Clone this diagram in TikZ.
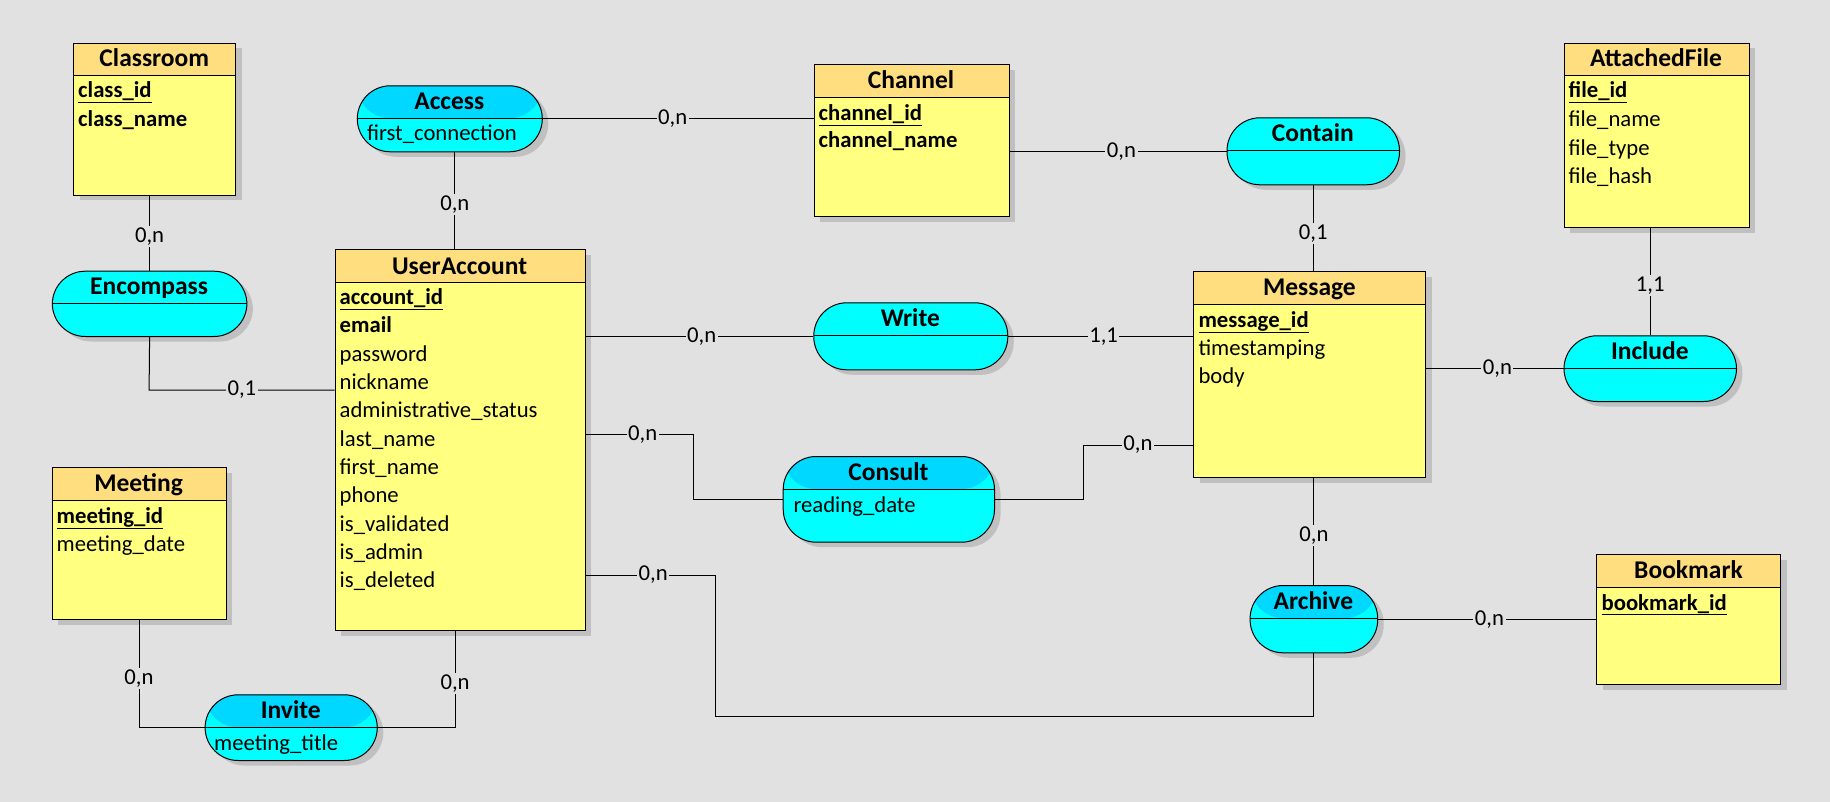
\documentclass[tikz,border=0pt]{standalone}
\usepackage{fontspec}
\setmainfont{Carlito}
\usetikzlibrary{shadows}
\definecolor{bg}{RGB}{225,225,225}
\definecolor{enthead}{RGB}{255,222,128}
\definecolor{entbody}{RGB}{255,255,128}
\definecolor{relbody}{RGB}{0,255,255}
\definecolor{relhead}{RGB}{0,216,255}
\definecolor{shadowc}{RGB}{192,192,192}
\newcommand{\erfont}{\fontsize{22.7}{27}\selectfont}
\newcommand{\ertitlefont}{\fontsize{25.5}{30}\selectfont}
\begin{document}
\begin{tikzpicture}[x=1pt,y=-1pt,
  box/.style={draw=black, line width=1pt, inner sep=0pt, anchor=north west,
    general shadow={fill=shadowc, shadow xshift=6pt, shadow yshift=-5pt}},
  hdr/.style={path picture={
    \fill[#1] (path picture bounding box.north west) rectangle ([yshift=-32.5pt]path picture bounding box.north east);
    \draw[line width=1pt] ([yshift=-32.5pt]path picture bounding box.north west) -- ([yshift=-32.5pt]path picture bounding box.north east);}},
  entity/.style={box, fill=entbody, hdr=enthead},
  relA/.style={box, fill=relbody, rounded corners=33pt, hdr=relhead},
  relB/.style={box, fill=relbody, rounded corners=33pt, hdr=relbody},
  title/.style={font=\ertitlefont\bfseries, inner sep=0pt, anchor=base},
  attr/.style={font=\erfont, inner sep=0pt, anchor=base west},
  key/.style={font=\erfont\bfseries, inner sep=0pt, anchor=base west},
  card/.style={font=\erfont, fill=bg, inner sep=1.5pt},
  link/.style={draw=black, line width=1pt},
]
\fill[bg] (0,0) rectangle (1830,802);
\useasboundingbox (0,0) rectangle (1830,802);

% ---------- entities ----------
\node[entity, minimum width=162pt, minimum height=152pt] (cls) at (73,43) {};
\node[title] at (154.3,67) {Classroom};
\node[key] at (78,98) {\underline{class\_id}};
\node[key] at (78,127) {class\_name};

\node[entity, minimum width=195pt, minimum height=152pt] (chan) at (813.5,64.3) {};
\node[title] at (911,89) {Channel};
\node[key] at (818.5,120.3) {\underline{channel\_id}};
\node[key] at (818.5,147.7) {channel\_name};

\node[entity, minimum width=250pt, minimum height=381pt] (ua) at (334.6,249.3) {};
\node[title] at (459.6,274) {UserAccount};
\node[key] at (339.5,304.6) {\underline{account\_id}};
\node[key] at (339.5,332.9) {email};
\node[attr] at (339.5,361.2) {password};
\node[attr] at (339.5,389.5) {nickname};
\node[attr] at (339.5,417.8) {administrative\_status};
\node[attr] at (339.5,446.1) {last\_name};
\node[attr] at (339.5,474.4) {first\_name};
\node[attr] at (339.5,502.7) {phone};
\node[attr] at (339.5,531) {is\_validated};
\node[attr] at (339.5,559.3) {is\_admin};
\node[attr] at (339.5,587.6) {is\_deleted};

\node[entity, minimum width=232pt, minimum height=206pt] (msg) at (1193.3,271.3) {};
\node[title] at (1309.4,295.5) {Message};
\node[key] at (1198.3,327) {\underline{message\_id}};
\node[attr] at (1198.3,355.3) {timestamping};
\node[attr] at (1198.3,383.7) {body};

\node[entity, minimum width=185pt, minimum height=184.6pt] (att) at (1563.5,42.7) {};
\node[title] at (1656,67) {AttachedFile};
\node[key] at (1568.5,98) {\underline{file\_id}};
\node[attr] at (1568.5,127) {file\_name};
\node[attr] at (1568.5,155.3) {file\_type};
\node[attr] at (1568.5,183.6) {file\_hash};

\node[entity, minimum width=174pt, minimum height=152pt] (mtg) at (51.5,467.3) {};
\node[title] at (138.6,491.5) {Meeting};
\node[key] at (56.5,523) {\underline{meeting\_id}};
\node[attr] at (56.5,551) {meeting\_date};

\node[entity, minimum width=184pt, minimum height=130pt] (bkm) at (1596.4,554.3) {};
\node[title] at (1688.5,578) {Bookmark};
\node[key] at (1601.4,610) {\underline{bookmark\_id}};

% ---------- relations ----------
\node[relA, minimum width=185pt, minimum height=66pt] (acc) at (356.8,85.3) {};
\node[title] at (449.3,109.5) {Access};
\node[attr] at (366.8,141) {first\_connection};

\node[relB, minimum width=194.6pt, minimum height=65.3pt] (enc) at (51.8,270.7) {};
\node[title] at (149.1,294.5) {Encompass};

\node[relB, minimum width=172.5pt, minimum height=67pt] (ctn) at (1226.5,117.3) {};
\node[title] at (1312.8,141.7) {Contain};

\node[relB, minimum width=194pt, minimum height=67pt] (wr) at (813.3,302.3) {};
\node[title] at (910.3,326.7) {Write};

\node[relB, minimum width=172.5pt, minimum height=65.7pt] (inc) at (1563.5,335.3) {};
\node[title] at (1649.8,359.7) {Include};

\node[relA, minimum width=211.3pt, minimum height=85.7pt] (csl) at (782.7,456) {};
\node[title] at (888.4,480) {Consult};
\node[attr] at (793.3,512) {reading\_date};

\node[relA, minimum width=127.6pt, minimum height=67.3pt] (arc) at (1249.6,585) {};
\node[title] at (1313.4,609.7) {Archive};

\node[relA, minimum width=172.2pt, minimum height=65.7pt] (inv) at (204.6,694.3) {};
\node[title] at (290.7,718) {Invite};
\node[attr] at (214,750) {meeting\_title};

% ---------- connectors ----------
\coordinate (k1) at (693.2,434.3);
\coordinate (k2) at (1083.8,445);
\coordinate (k3) at (715.5,575);
\coordinate (k4) at (715.5,716.7);
\coordinate (k5) at (149.1,390);

\draw[link] (acc.east) -- (chan.west |- acc.east) node[card,pos=0.48] {0,n};
\draw[link] ([xshift=5pt]acc.south) -- ([xshift=-5.3pt]ua.north) node[card,pos=0.54] {0,n};
\draw[link] (cls.south -| enc.north) -- (enc.north) node[card,pos=0.54] {0,n};
\draw[link] (enc.south) -- (k5) -- (ua.west |- k5) node[card,pos=0.5] {0,1};
\draw[link] (wr.west -| ua.east) -- (wr.west) node[card,pos=0.51] {0,n};
\draw[link] (wr.east) -- (msg.west |- wr.east) node[card,pos=0.515] {1,1};
\draw[link] (chan.east |- ctn.west) -- (ctn.west) node[card,pos=0.516] {0,n};
\draw[link] (ctn.south) -- (msg.north -| ctn.south) node[card,pos=0.56] {0,1};
\draw[link] (msg.east |- inc.west) -- (inc.west) node[card,pos=0.518] {0,n};
\draw[link] (att.south -| inc.north) -- (inc.north) node[card,pos=0.534] {1,1};
\draw[link] (ua.east |- k1) -- (k1) node[card,pos=0.53] {0,n} |- (csl.west);
\draw[link] (csl.east) -| (k2) -- (msg.west |- k2) node[card,pos=0.495] {0,n};
\draw[link] (msg.south -| arc.north) -- (arc.north) node[card,pos=0.536] {0,n};
\draw[link] (arc.east) -- (bkm.west |- arc.east) node[card,pos=0.51] {0,n};
\draw[link] (ua.east |- k3) -- (k3) node[card,pos=0.52] {0,n} -- (k4) -| (arc.south);
\draw[link] (mtg.south) |- (inv.west) node[card,pos=0.27] {0,n};
\draw[link] ([xshift=-5pt]ua.south) |- (inv.east) node[card,pos=0.27] {0,n};
\end{tikzpicture}
\end{document}
